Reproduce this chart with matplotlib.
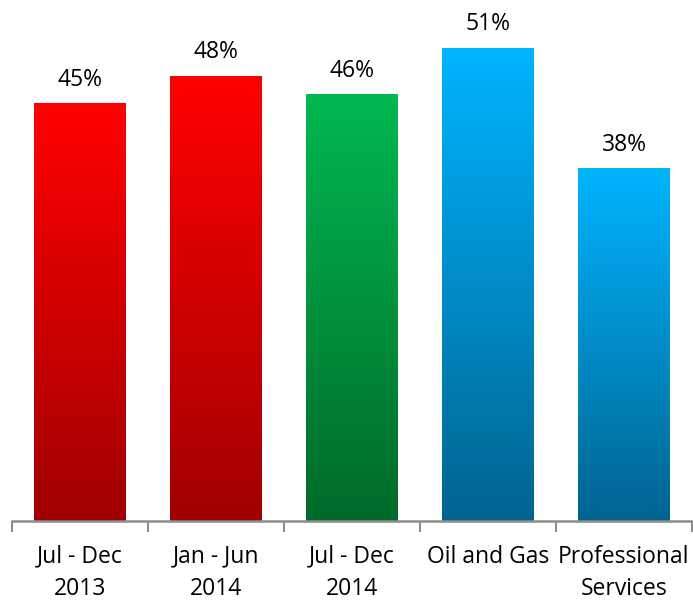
import numpy as np
import matplotlib
matplotlib.use("Agg")
import matplotlib.pyplot as plt
from matplotlib.colors import LinearSegmentedColormap

categories = ["Jul - Dec\n2013", "Jan - Jun\n2014", "Jul - Dec\n2014",
              "Oil and Gas", "Professional\nServices"]
values = [45, 48, 46, 51, 38]
# (top colour, bottom colour) for each bar's vertical gradient
bar_colors = [("#ff0000", "#a00000"), ("#ff0000", "#a00000"),
              ("#00b850", "#006a2a"), ("#00b4ff", "#006490"),
              ("#00b4ff", "#006490")]

plt.rcParams['font.family'] = ['Open Sans', 'DejaVu Sans']

fig = plt.figure(figsize=(6.93, 6.01), dpi=100)
ax = fig.add_axes([12 / 693, 80 / 601, 680 / 693, 521 / 601])

width = 0.67
grad = np.linspace(1, 0, 256).reshape(-1, 1)
for i, (v, (top, bot)) in enumerate(zip(values, bar_colors)):
    cmap = LinearSegmentedColormap.from_list(f"g{i}", [bot, top])
    ax.imshow(grad, cmap=cmap, vmin=0, vmax=1, aspect="auto",
              extent=[i - width / 2, i + width / 2, 0, v], zorder=2)
    ax.text(i, v + 1.3, f"{v}%", ha="center", va="bottom", fontsize=16.5)

ax.set_xlim(-0.5, len(values) - 0.5)
ax.set_ylim(0, 56.2)

for s in ["top", "right", "left"]:
    ax.spines[s].set_visible(False)
ax.spines["bottom"].set_color("#8c8c8c")
ax.spines["bottom"].set_linewidth(1.8)
ax.set_yticks([])

ax.set_xticks(np.arange(len(values) + 1) - 0.5, minor=False)
ax.set_xticklabels([])
ax.tick_params(axis="x", which="major", length=8, width=1.5,
               color="#8c8c8c", direction="out")
ax.set_xticks(np.arange(len(values)), minor=True)
ax.set_xticklabels(categories, minor=True, fontsize=16.5, linespacing=1.45)
ax.tick_params(axis="x", which="minor", length=0, pad=17)

fig.savefig("out.png", dpi=100)
